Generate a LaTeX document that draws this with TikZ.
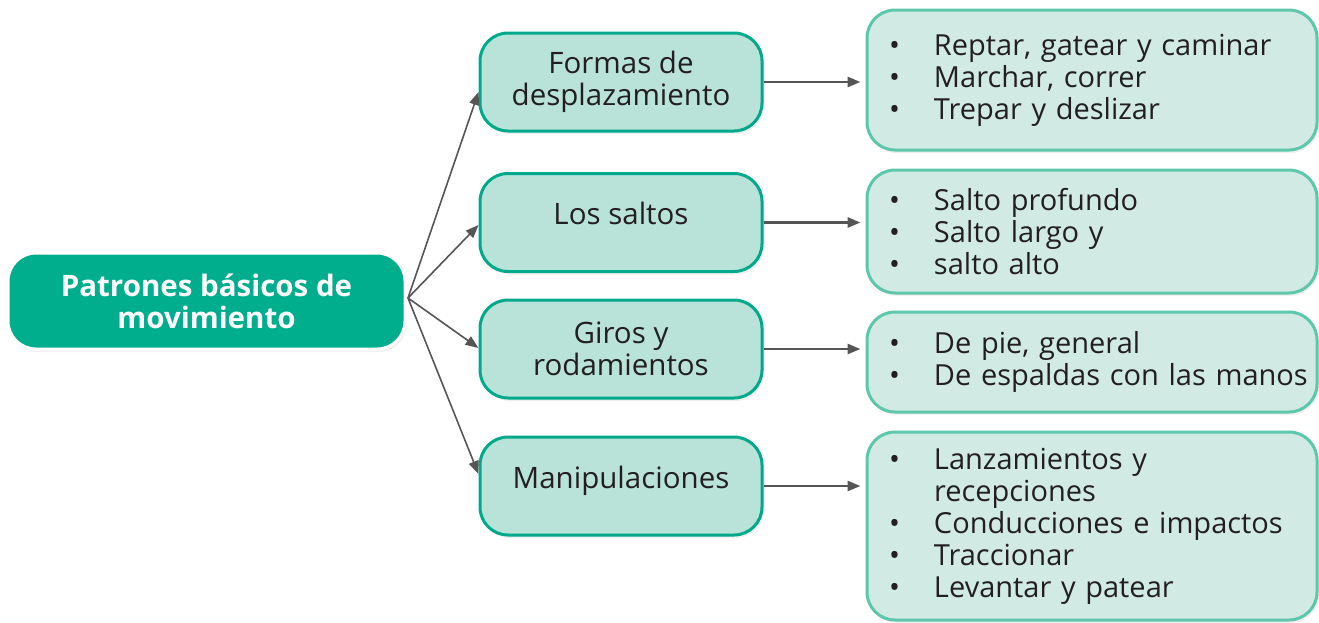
\documentclass[tikz,border=0pt]{standalone}
\usepackage{fontspec}
\setmainfont{Open Sans}
\usetikzlibrary{arrows.meta,shadows}
\definecolor{raiz}{HTML}{00AE8E}
\definecolor{medio}{HTML}{B9E2D8}
\definecolor{bordemedio}{HTML}{00A98B}
\definecolor{lista}{HTML}{D1EAE4}
\definecolor{bordelista}{HTML}{5DC7AB}
\definecolor{flecha}{HTML}{555555}
\definecolor{texto}{HTML}{231F20}
\newcommand{\bul}{\makebox[45pt][l]{\textbullet}}
\newcommand{\sinbul}{\makebox[45pt][l]{}}
\begin{document}
\begin{tikzpicture}[x=1pt,y=-1pt,>={Triangle[length=13pt,width=10pt]},line join=round,
    sombra/.style={drop shadow={opacity=0.12,shadow xshift=2pt,shadow yshift=-3pt}},
    raizbox/.style={draw=white,line width=3pt,fill=raiz,rounded corners=28pt,sombra,
        minimum width=397pt,minimum height=96pt,align=center,text=white,
        font=\fontsize{29.5}{32}\selectfont\bfseries},
    mediobox/.style={draw=bordemedio,line width=3pt,fill=medio,rounded corners=28pt,sombra,
        minimum width=282pt,minimum height=98pt,align=center,text=texto,
        font=\fontsize{29.5}{32}\selectfont},
    arriba/.style={text depth=18pt},
    listabox/.style={draw=bordelista,line width=3pt,fill=lista,rounded corners=28pt,sombra,
        minimum width=450pt,inner xsep=22pt,text width=406pt,align=left,text=texto,
        font=\fontsize{29}{32}\selectfont},
    conector/.style={->,draw=flecha,line width=1.6pt},
    conector2/.style={->,draw=flecha,line width=2.8pt,shorten >=5pt}]
\useasboundingbox (0,0) rectangle (1319,622);
% raiz
\node[raizbox] (raiz) at (206.5,301) {Patrones básicos de\\movimiento};
\coordinate (hub) at (408,298);
% columna media
\node[mediobox] (m1) at (621,82) {Formas de\\desplazamiento};
\node[mediobox,arriba] (m2) at (621,222.5) {Los saltos};
\node[mediobox] (m3) at (621,349) {Giros y\\rodamientos};
\node[mediobox,arriba] (m4) at (621,486) {Manipulaciones};
% listas
\node[listabox,minimum height=140pt] (l1) at (1092,80)
    {\bul Reptar, gatear y caminar\\\bul Marchar, correr\\\bul Trepar y deslizar};
\node[listabox,minimum height=123pt] (l2) at (1092,231.5)
    {\bul Salto profundo\\\bul Salto largo y\\\bul salto alto};
\node[listabox,minimum height=100pt] (l3) at (1092,362)
    {\bul De pie, general\\\mbox{\bul De espaldas con las manos}};
\node[listabox,minimum height=188pt] (l4) at (1092,526)
    {\bul Lanzamientos y\\\sinbul recepciones\\\bul Conducciones e impactos\\\bul Traccionar\\\bul Levantar y patear};
% flechas
\draw[conector] (hub) -- (m1.west |- 0,92);
\draw[conector] (hub) -- (m2.west |- 0,225);
\draw[conector] (hub) -- (m3.west |- 0,348);
\draw[conector] (hub) -- (m4.west |- 0,474);
\foreach \m/\l in {m1/l1,m2/l2,m3/l3,m4/l4}
    \draw[conector2] (\m.east) -- (\m.east -| \l.west);
\end{tikzpicture}
\end{document}
